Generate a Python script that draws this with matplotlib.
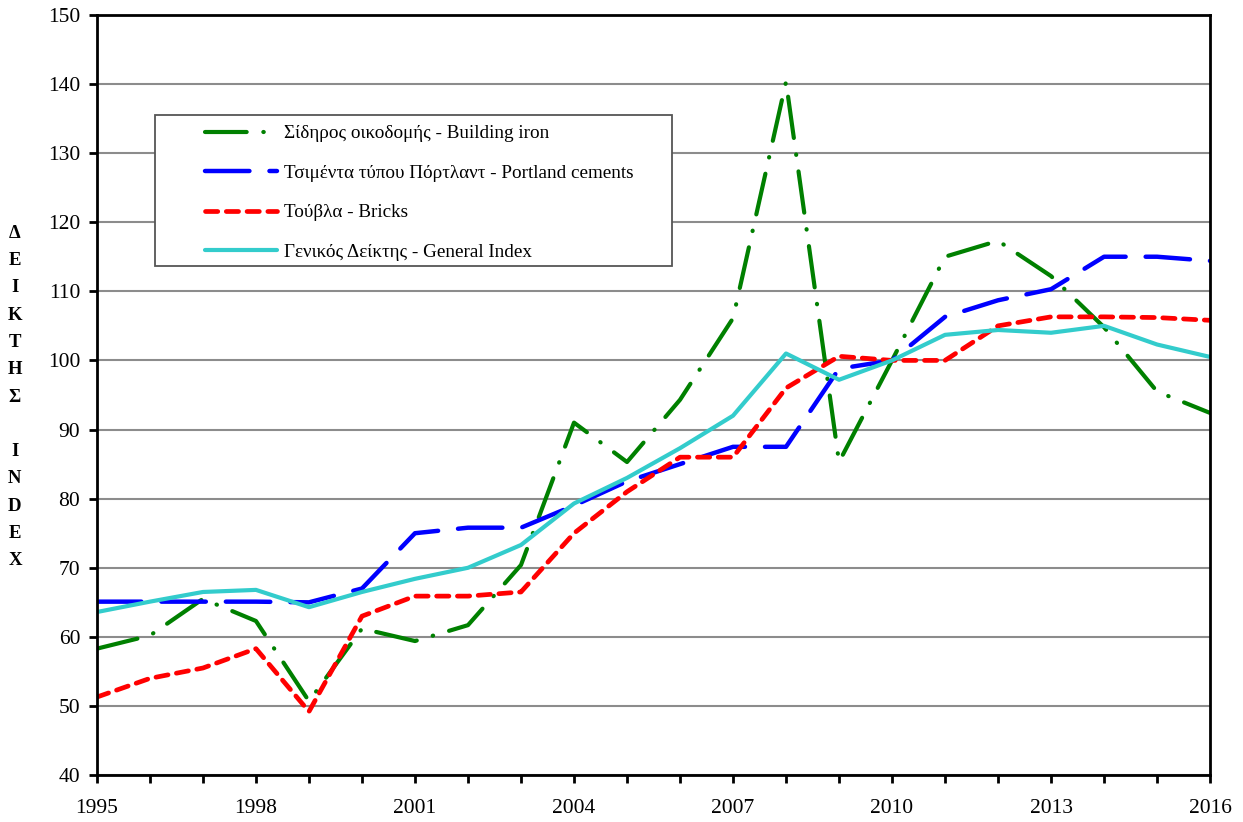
import matplotlib
matplotlib.use('Agg')
import matplotlib.pyplot as plt
from matplotlib.patches import Rectangle

plt.rcParams['font.family'] = ['Liberation Serif', 'DejaVu Serif']

years = list(range(1995, 2017))
iron = [58.3, 60.2, 65.5, 62.3, 50.7, 61.2, 59.4, 61.7, 70.4, 91.0, 85.3, 94.3,
        106.1, 140.3, 85.3, 100.0, 115.0, 117.3, 112.2, 104.8, 95.5, 92.4]
cement = [65.1, 65.1, 65.1, 65.1, 65.0, 67.0, 75.0, 75.8, 75.8, 79.0, 82.5, 85.0,
          87.5, 87.5, 98.8, 100.0, 106.3, 108.7, 110.3, 115.0, 115.0, 114.4]
bricks = [51.3, 54.0, 55.5, 58.3, 49.2, 63.0, 65.9, 65.9, 66.5, 75.0, 81.0, 86.0,
          86.0, 96.0, 100.6, 100.0, 100.0, 105.0, 106.3, 106.3, 106.2, 105.8]
general = [63.6, 65.1, 66.5, 66.8, 64.3, 66.5, 68.4, 70.0, 73.3, 79.3, 83.0, 87.3,
           92.0, 101.0, 97.2, 100.0, 103.7, 104.4, 104.0, 105.0, 102.3, 100.5]

labels = ['Σίδηρος οικοδομής - Building iron',
          'Τσιμέντα τύπου Πόρτλαντ - Portland cements',
          'Τούβλα - Bricks',
          'Γενικός Δείκτης - General Index']
ylabel = 'Δ\nΕ\nΙ\nΚ\nΤ\nΗ\nΣ\n\nI\nN\nD\nE\nX'

fig = plt.figure(figsize=(12.43, 8.22), dpi=100)
ax = fig.add_axes([0.078, 0.057, 0.8955, 0.925])

ax.yaxis.grid(True, color='#8c8c8c', linewidth=1.5)
ax.set_axisbelow(True)

l1, = ax.plot(years, iron, color='#008000', linewidth=3.0, label=labels[0],
              dashes=(10, 4, 0.1, 4), dash_capstyle='round')
l2, = ax.plot(years, cement, color='#0000ff', linewidth=3.2, label=labels[1],
              dashes=(10, 4.5), dash_capstyle='round')
l3, = ax.plot(years, bricks, color='#ff0000', linewidth=3.4, label=labels[2],
              dashes=(2.6, 1.8), dash_capstyle='round')
l4, = ax.plot(years, general, color='#33cccc', linewidth=3.0, label=labels[3],
              solid_capstyle='round')

ax.set_xlim(1995, 2016)
ax.set_ylim(40, 150)
ax.set_xticks(range(1995, 2017, 3))
ax.set_xticks(years, minor=True)
ax.set_yticks(range(40, 151, 10))
for s in ax.spines.values():
    s.set_linewidth(2)
    s.set_color('black')
ax.tick_params(axis='both', which='both', direction='out', width=2, colors='black',
               labelsize=15.5)
ax.tick_params(axis='x', which='both', length=6, pad=11)
ax.tick_params(axis='y', length=6, pad=6)

fig.text(0.012, 0.517, ylabel, fontsize=13.5, fontweight='bold', ha='center',
         va='center', linespacing=1.79)

# legend box (drawn by hand, wider than the legend itself like the original)
box = Rectangle((0.0521, 0.6697), 0.4645, 0.1987, transform=ax.transAxes,
                facecolor='white', edgecolor='#555555', linewidth=1.3, zorder=3)
ax.add_patch(box)
leg = ax.legend(handles=[l1, l2, l3, l4], loc='upper left',
                bbox_to_anchor=(0.097, 0.855), fontsize=13.75, frameon=False,
                handlelength=3.8, borderpad=0, labelspacing=1.16,
                handletextpad=0.35, borderaxespad=0)
leg.set_zorder(4)

fig.savefig('out.png', dpi=100)
